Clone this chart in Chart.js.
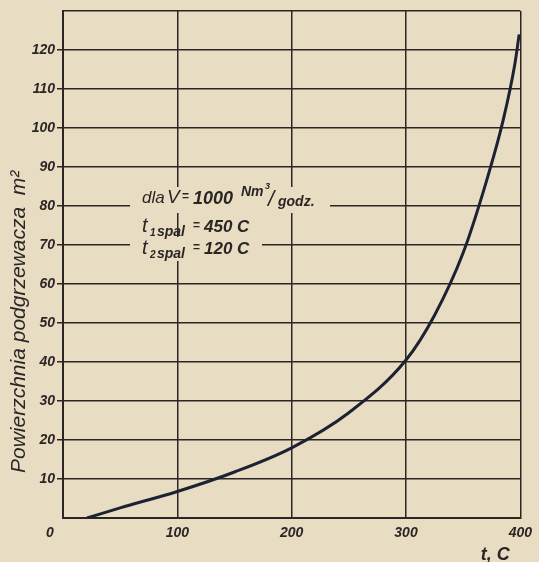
<!DOCTYPE html>
<html>
<head>
<meta charset="utf-8">
<script src="https://cdn.jsdelivr.net/npm/chart.js@4.4.1/dist/chart.umd.min.js"></script>
<style>
  body { margin: 0; background: #e8dcc3; }
  #wrap { width: 539px; height: 562px; }
</style>
</head>
<body>
<div id="wrap"><canvas id="chart" width="539" height="562"></canvas></div>
<script>
/* =========================
   DATA
========================= */

// temperatura t, C
const tempValues = [21, 50, 100, 150, 200, 250, 300, 325, 350, 370, 385, 395, 399];
// powierzchnia podgrzewacza, m2
const areaValues = [0, 2.6, 6.8, 11.8, 18, 27, 40.5, 52, 68, 86, 102, 116, 124];

const xTicks = [0, 100, 200, 300, 400];
const yTicks = [0, 10, 20, 30, 40, 50, 60, 70, 80, 90, 100, 110, 120, 130];

const yTitle = 'Powierzchnia podgrzewacza  m²';
const xTitle = 't, C';

const PAPER = '#e8dcc3';
const INK = '#2b2624';
const CURVE = '#1d2233';

const points = tempValues.map((t, i) => ({ x: t, y: areaValues[i] }));

/* =========================
   PLUGINS
========================= */

const paperPlugin = {
    id: 'paper',
    beforeDraw(chart) {
        const { ctx } = chart;
        ctx.save();
        ctx.fillStyle = PAPER;
        ctx.fillRect(0, 0, chart.width, chart.height);
        ctx.restore();
    }
};

// opisy osi, opis na wykresie + "0" w narozniku
const notePlugin = {
    id: 'note',
    afterDraw(chart) {
        const { ctx, chartArea: { left, top, right, bottom }, scales: { x, y } } = chart;

        ctx.save();
        ctx.fillStyle = INK;
        ctx.textBaseline = 'alphabetic';

        // origin label
        ctx.font = 'bold italic 14px "Liberation Sans"';
        ctx.textAlign = 'center';
        ctx.fillText('0', x.getPixelForValue(0) - 13, y.getPixelForValue(0) + 19);

        // x title
        ctx.font = 'bold italic 18px "Liberation Sans"';
        ctx.fillText(xTitle, right - 25, bottom + 42);

        // y title
        ctx.save();
        ctx.translate(25, bottom - 45);
        ctx.rotate(-Math.PI / 2);
        ctx.textAlign = 'left';
        ctx.font = 'italic 21px "Liberation Sans"';
        ctx.fillText(yTitle, 0, 0);
        ctx.restore();

        // cover grid lines behind the note
        ctx.fillStyle = PAPER;
        ctx.fillRect(left + 67, top + 176, 200, 26);
        ctx.fillRect(left + 67, top + 226, 132, 24);

        ctx.fillStyle = INK;
        ctx.textAlign = 'left';
        const x0 = left + 79;

        // line 1
        let b = top + 192;
        ctx.font = 'italic 17px "Liberation Sans"';
        ctx.fillText('dla', x0, b);
        ctx.font = 'italic 19px "Liberation Sans"';
        ctx.fillText('V', x0 + 25, b);
        ctx.font = 'bold 12px "Liberation Sans"';
        ctx.fillText('=', x0 + 40, b - 3);
        ctx.font = 'bold italic 18px "Liberation Sans"';
        ctx.fillText('1000', x0 + 51, b + 1);
        ctx.font = 'bold italic 14px "Liberation Sans"';
        ctx.fillText('Nm', x0 + 99, b - 7);
        ctx.font = 'bold italic 9px "Liberation Sans"';
        ctx.fillText('3', x0 + 123, b - 14);
        ctx.font = 'italic 22px "Liberation Sans"';
        ctx.fillText('/', x0 + 126, b + 3);
        ctx.font = 'bold italic 14px "Liberation Sans"';
        ctx.fillText('godz.', x0 + 136, b + 3);

        // lines 2, 3
        const rows = [['1', '450 C', top + 221], ['2', '120 C', top + 243]];
        rows.forEach(([sub, val, base]) => {
            ctx.font = 'italic 20px "Liberation Sans"';
            ctx.fillText('t', x0, base);
            ctx.font = 'bold italic 10px "Liberation Sans"';
            ctx.fillText(sub, x0 + 8, base + 4);
            ctx.font = 'bold italic 14px "Liberation Sans"';
            ctx.fillText('spal', x0 + 15, base + 4);
            ctx.font = 'bold 12px "Liberation Sans"';
            ctx.fillText('=', x0 + 51, base - 3);
            ctx.font = 'bold italic 17px "Liberation Sans"';
            ctx.fillText(val, x0 + 62, base);
        });

        ctx.restore();
    }
};

/* =========================
   CHART
========================= */

new Chart(document.getElementById('chart'), {
    type: 'line',
    data: {
        datasets: [{
            data: points,
            borderColor: CURVE,
            borderWidth: 3,
            pointRadius: 0,
            fill: false,
            cubicInterpolationMode: 'monotone'
        }]
    },
    options: {
        responsive: false,
        animation: false,
        layout: { padding: { left: 0, right: 10, top: 11, bottom: 0 } },
        plugins: {
            legend: { display: false },
            tooltip: { enabled: false }
        },
        scales: {
            x: {
                type: 'linear',
                min: 0,
                max: 400,
                afterBuildTicks: s => { s.ticks = xTicks.map(v => ({ value: v })); },
                afterFit: s => { s.height = 44; },
                border: { color: INK, width: 2 },
                grid: { color: INK, lineWidth: 1.5, drawTicks: false },
                ticks: {
                    padding: 7,
                    color: INK,
                    font: { family: 'Liberation Sans', size: 14, style: 'italic', weight: 'bold' },
                    callback: v => v === 0 ? '' : v
                }
            },
            y: {
                min: 0,
                max: 130,
                afterBuildTicks: s => { s.ticks = yTicks.map(v => ({ value: v })); },
                afterFit: s => { s.width = 63; },
                border: { color: INK, width: 2 },
                grid: {
                    color: INK,
                    lineWidth: 1.5,
                    tickLength: 6,
                    tickColor: c => (c.tick && (c.tick.value === 0 || c.tick.value > 120)) ? 'rgba(0,0,0,0)' : INK
                },
                ticks: {
                    padding: 2,
                    color: INK,
                    font: { family: 'Liberation Sans', size: 14, style: 'italic', weight: 'bold' },
                    callback: v => (v === 0 || v > 120) ? '' : v
                }
            }
        }
    },
    plugins: [paperPlugin, notePlugin]
});
</script>
</body>
</html>
